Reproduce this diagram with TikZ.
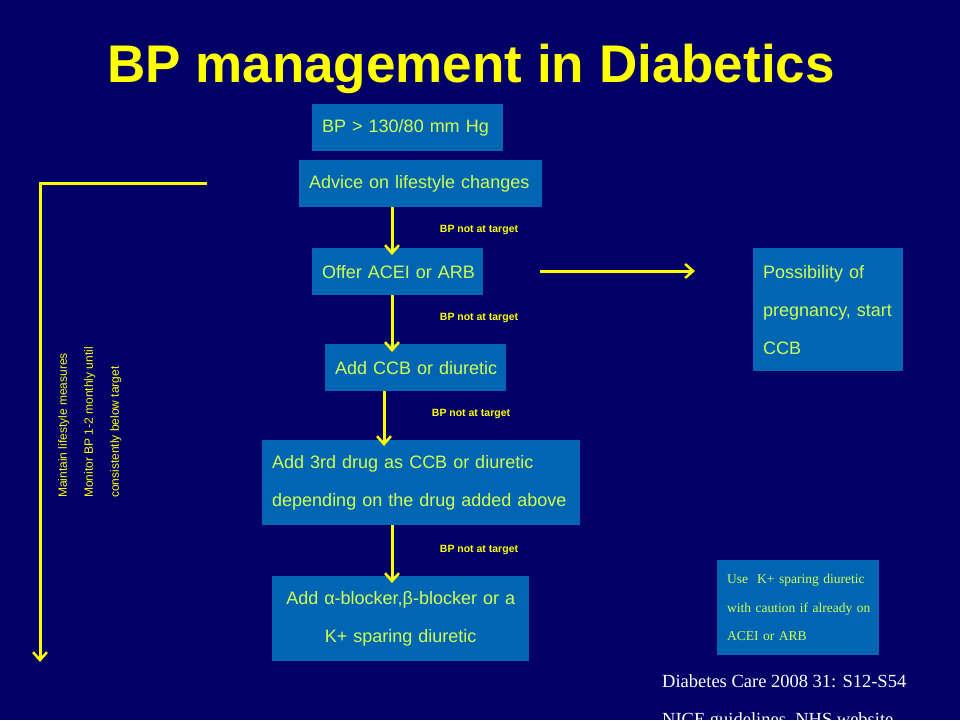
\documentclass[tikz,border=0pt]{standalone}
\usepackage{fontspec}
\newfontfamily\arialf{Liberation Sans}
\newfontfamily\tnrf{Liberation Serif}
\usetikzlibrary{arrows.meta}
\definecolor{bg}{RGB}{0,0,102}
\definecolor{boxblue}{RGB}{0,102,180}
\definecolor{boxtext}{RGB}{210,255,80}
\definecolor{arrowy}{RGB}{255,255,0}
\tikzset{
  box/.style={fill=boxblue, text=boxtext, font=\arialf\fontsize{18}{38}\selectfont,
    inner xsep=10pt, inner ysep=0pt, anchor=north west, align=left},
  arr/.style={draw=arrowy, line width=3pt,
    -{Straight Barb[length=8pt,width=14pt,line width=2.5pt]}},
  notarget/.style={text=arrowy, font=\arialf\bfseries\fontsize{10.5}{12}\selectfont, inner sep=0pt},
  refs/.style={text=white, font=\tnrf\fontsize{18.5}{22}\selectfont, inner sep=0pt, anchor=base west}
}
\begin{document}
\begin{tikzpicture}[x=1pt,y=-1pt]
\useasboundingbox (0,0) rectangle (960,720);
\fill[bg] (0,0) rectangle (960,720);

\node[text=arrowy, font=\arialf\bfseries\fontsize{53}{60}\selectfont, inner sep=0pt, anchor=base]
  (title) at (471,82) {BP management in Diabetics};

\node[box, text width=171pt, minimum height=47pt] (bp) at (312,104) {\mbox{BP > 130/80 mm Hg}};
\node[box, text width=223pt, minimum height=47pt] (adv) at (299,160) {\mbox{Advice on lifestyle changes}};
\node[box, text width=151pt, minimum height=47pt] (offer) at (312,248) {\mbox{Offer ACEI or ARB}};
\node[box, text width=161pt, minimum height=47pt] (ccb) at (325,344) {\mbox{Add CCB or diuretic}};
\node[box, text width=298pt, minimum height=85pt] (third) at (262,440)
  {\mbox{Add 3rd drug as CCB or diuretic}\\\mbox{depending on the drug added above}};
\node[box, text width=237pt, minimum height=85pt, align=center] (alpha) at (272,576)
  {\mbox{Add α-blocker,β-blocker or a}\\\mbox{K+ sparing diuretic}};
\node[box, text width=130pt, minimum height=123pt] (preg) at (753,248)
  {\mbox{Possibility of}\\\mbox{pregnancy, start}\\\mbox{CCB}};
\node[box, text width=142pt, minimum height=95pt, font=\tnrf\fontsize{13.5}{28.5}\selectfont] (kplus) at (717,560)
  {\mbox{Use\ \ K+ sparing diuretic}\\\mbox{with caution if already on}\\\mbox{ACEI or ARB}};

% arrow end points
\coordinate (t1) at (392,255);
\coordinate (t2) at (392,352);
\coordinate (t3) at (384,446);
\coordinate (t4) at (392,583);
\coordinate (hs) at (540,271);
\coordinate (he) at (695,271);
\coordinate (ls) at (207,183);
\coordinate (lc) at (40,183);
\coordinate (le) at (40,662);

\draw[arr] (adv.south -| t1) -- (t1);
\draw[arr] (offer.south -| t2) -- (t2);
\draw[arr] (ccb.south -| t3) -- (t3);
\draw[arr] (third.south -| t4) -- (t4);
\draw[arr] (hs) -- (he);
\draw[arr] (ls) -- (lc) -- (le);

\node[notarget] (nt1) at (479,230) {BP not at target};
\node[notarget] (nt2) at (479,318) {BP not at target};
\node[notarget] (nt3) at (471,414) {BP not at target};
\node[notarget] (nt4) at (479,550) {BP not at target};

\node[rotate=90, anchor=north west, align=left, inner sep=0pt, text=arrowy,
  font=\arialf\fontsize{12}{26}\selectfont] (life) at (58,498)
  {Maintain lifestyle measures\\Monitor BP 1-2 monthly until\\consistently below target};

\node[refs] (ref1) at (662,687) {Diabetes Care 2008 31: S12-S54};
\node[refs] (ref2) at (662,725) {NICE guidelines, NHS website};
\end{tikzpicture}
\end{document}
